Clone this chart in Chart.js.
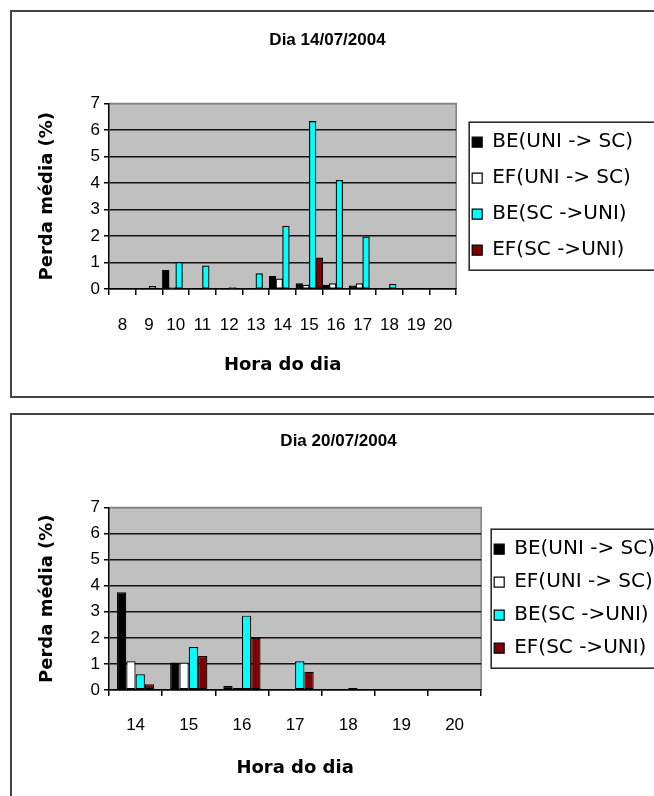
<!DOCTYPE html>
<html>
<head>
<meta charset="utf-8">
<script src="https://cdn.jsdelivr.net/npm/chart.js@4.4.0/dist/chart.umd.min.js"></script>
<style>
	body { margin: 0; background: #fff; width: 654px; height: 796px; overflow: hidden; position: relative; }
	.box { position: absolute; left: 10px; width: 700px; border: 2px solid #444; background: #fff; }
	.box canvas { display: block; }
	#box14 { top: 10px; height: 384px; }
	#box20 { top: 413px; height: 400px; }
</style>
</head>
<body>
<div class="box" id="box14"><canvas id="chart14" width="690" height="384"></canvas></div>
<div class="box" id="box20"><canvas id="chart20" width="690" height="384"></canvas></div>
<script>

const seriesLabels = ['BE(UNI -> SC)', 'EF(UNI -> SC)', 'BE(SC ->UNI)', 'EF(SC ->UNI)'];
const seriesColors = ['#000000', '#ffffff', '#00ffff', '#800000'];

// Dia 14/07/2004
const hours14 = ['8', '9', '10', '11', '12', '13', '14', '15', '16', '17', '18', '19', '20'];
const beUniSc14 = [0, 0, 0.7, 0, 0, 0, 0.48, 0.2, 0.15, 0.12, 0, 0, 0];
const efUniSc14 = [0, 0, 0.05, 0, 0, 0, 0.38, 0.15, 0.2, 0.2, 0, 0, 0];
const beScUni14 = [0, 0.1, 1.0, 0.87, 0.05, 0.58, 2.37, 6.32, 4.1, 1.97, 0.18, 0, 0];
const efScUni14 = [0, 0, 0, 0, 0, 0.03, 0, 1.18, 0, 0, 0, 0, 0];

// Dia 20/07/2004
const hours20 = ['14', '15', '16', '17', '18', '19', '20'];
const beUniSc20 = [3.75, 1.05, 0.15, 0, 0, 0, 0];
const efUniSc20 = [1.1, 1.05, 0.08, 0.03, 0, 0, 0];
const beScUni20 = [0.6, 1.65, 2.85, 1.1, 0.08, 0, 0];
const efScUni20 = [0.22, 1.3, 2.0, 0.7, 0.03, 0, 0];

const legendFontSize = 20;

// grey plot area + legend frame
const plotFrame = {
	id: 'plotFrame',
	beforeDraw(chart) {
		const ctx = chart.ctx;
		const area = chart.chartArea;
		ctx.save();
		ctx.fillStyle = '#c0c0c0';
		ctx.fillRect(area.left, area.top, area.width, area.height);
		ctx.strokeStyle = '#808080';
		ctx.lineWidth = 1.5;
		ctx.beginPath();
		ctx.moveTo(area.left, area.top);
		ctx.lineTo(area.right, area.top);
		ctx.lineTo(area.right, area.bottom);
		ctx.stroke();
		ctx.restore();
	},
	afterDraw(chart) {
		const ctx = chart.ctx;
		const legend = chart.legend;
		const pad = legend.options.labels.padding;
		const count = legend.legendItems.length;
		const mid = (legend.top + legend.bottom) / 2;
		const half = (count * legendFontSize + (count - 1) * pad) / 2 + 10;
		ctx.save();
		ctx.strokeStyle = '#222';
		ctx.lineWidth = 1.5;
		ctx.strokeRect(legend.left + pad - 3, mid - half, chart.width, half * 2);
		ctx.restore();
	}
};

class Perda {

	static createBars(target, title, labels, values, layout) {

		const datasets = values.map((data, key) => ({
			label: seriesLabels[key],
			data: data,
			backgroundColor: seriesColors[key],
			borderColor: '#000000',
			borderWidth: 1.2,
			borderSkipped: false,
			categoryPercentage: layout.categoryPercentage,
			barPercentage: 1.0
		}));

		new Chart(target, {
			type: 'bar',
			data: {
				labels: labels,
				datasets: datasets
			},
			plugins: [plotFrame],
			options: {
				responsive: false,
				animation: false,
				devicePixelRatio: 1,
				layout: {
					padding: {top: 0, left: 0, right: layout.paddingRight, bottom: 0}
				},
				scales: {
					x: {
						grid: {
							offset: true,
							drawOnChartArea: false,
							color: '#000',
							lineWidth: 1.5,
							tickLength: 6
						},
						border: {color: '#000', width: 1.5},
						ticks: {
							color: '#000',
							font: {family: 'Liberation Sans', size: 17},
							padding: layout.tickPadding,
							autoSkip: false,
							maxRotation: 0
						},
						title: {
							display: true,
							text: 'Hora do dia',
							color: '#000',
							font: {family: 'DejaVu Sans', size: 18, weight: 'bold'},
							padding: {top: 0, bottom: 20}
						},
						afterFit: function(scale) {
							scale.height = layout.xHeight;
						}
					},
					y: {
						min: 0,
						max: 7,
						grid: {
							color: function(context) {
								return context.tick.value === 7 ? '#808080' : '#111';
							},
							tickColor: '#000',
							lineWidth: 1.5,
							tickLength: 5
						},
						border: {color: '#000', width: 1.5},
						ticks: {
							stepSize: 1,
							color: '#000',
							font: {family: 'Liberation Sans', size: 17},
							padding: 4
						},
						title: {
							display: true,
							text: 'Perda média (%)',
							color: '#000',
							font: {family: 'DejaVu Sans', size: 18, weight: 'bold'},
							padding: {top: 25, bottom: 0}
						},
						afterFit: function(scale) {
							scale.width = 97;
						}
					}
				},
				plugins: {
					title: {
						display: true,
						text: title,
						color: '#000',
						font: {family: 'Liberation Sans', size: 17, weight: 'bold'},
						padding: layout.titlePadding
					},
					legend: {
						position: 'right',
						fullSize: false,
						maxWidth: 400,
						labels: {
							color: '#000',
							font: {family: 'DejaVu Sans', size: legendFontSize},
							boxWidth: 10,
							boxHeight: 10,
							padding: layout.legendPadding
						}
					},
					tooltip: {
						enabled: false
					}
				}
			}
		});

	}

}

Perda.createBars(document.getElementById('chart14'), 'Dia 14/07/2004', hours14,
	[beUniSc14, efUniSc14, beScUni14, efScUni14],
	{categoryPercentage: 1.0, paddingRight: 59, legendPadding: 16, tickPadding: 20, xHeight: 107, titlePadding: {top: 18, bottom: 53}});

Perda.createBars(document.getElementById('chart20'), 'Dia 20/07/2004', hours20,
	[beUniSc20, efUniSc20, beScUni20, efScUni20],
	{categoryPercentage: 0.7, paddingRight: 37, legendPadding: 13, tickPadding: 19, xHeight: 109, titlePadding: {top: 16, bottom: 56}});

</script>
</body>
</html>
